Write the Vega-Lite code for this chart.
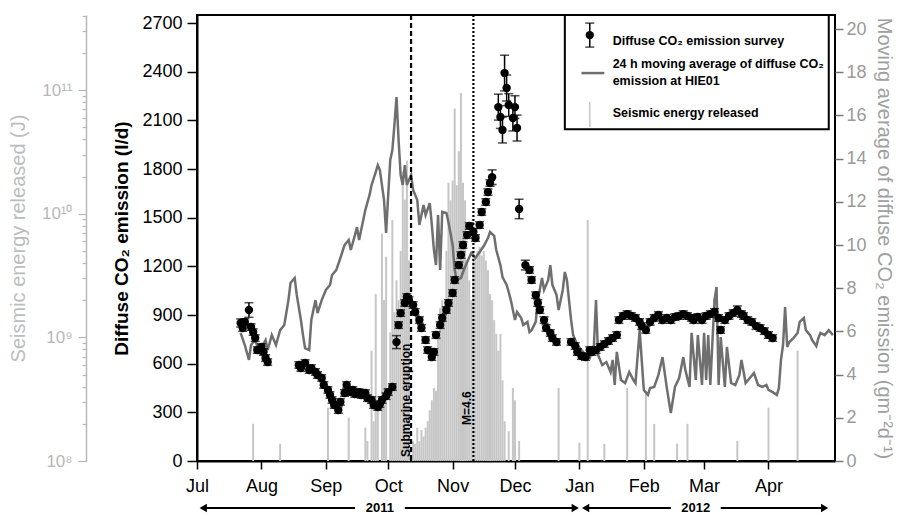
{
  "$schema": "https://vega.github.io/schema/vega-lite/v6.json",
  "width": 638,
  "height": 446,
  "autosize": {"type": "none"},
  "padding": {"left": 197, "top": 15, "right": 68, "bottom": 58},
  "background": "white",
  "config": {
    "view": {"stroke": "black", "strokeWidth": 2},
    "font": "Liberation Sans",
    "axis": {"labelFont": "Liberation Sans", "titleFont": "Liberation Sans", "grid": false},
    "text": {"font": "Liberation Sans"}
  },
  "datasets": {
    "seismic": [
      {"date": "2011-07-28", "energy": 2.0e8}, {"date": "2011-08-10", "energy": 1.38e8},
      {"date": "2011-09-02", "energy": 2.7e8}, {"date": "2011-09-12", "energy": 2.24e8},
      {"date": "2011-09-20", "energy": 1.86e8}, {"date": "2011-09-21", "energy": 1.45e8},
      {"date": "2011-09-23", "energy": 7.8e8}, {"date": "2011-09-24", "energy": 2.1e8},
      {"date": "2011-09-25", "energy": 2.24e9}, {"date": "2011-09-26", "energy": 3.1e8},
      {"date": "2011-09-28", "energy": 6.9e9}, {"date": "2011-09-29", "energy": 2.0e9},
      {"date": "2011-09-30", "energy": 4.5e9}, {"date": "2011-10-02", "energy": 1.1e9},
      {"date": "2011-10-03", "energy": 8.9e9}, {"date": "2011-10-04", "energy": 1.6e9},
      {"date": "2011-10-05", "energy": 2.9e9}, {"date": "2011-10-06", "energy": 2.0e9},
      {"date": "2011-10-07", "energy": 5.0e9}, {"date": "2011-10-08", "energy": 2.2e10},
      {"date": "2011-10-09", "energy": 1.3e10}, {"date": "2011-10-10", "energy": 2.7e10},
      {"date": "2011-10-11", "energy": 4.2e9}, {"date": "2011-10-13", "energy": 1.45e8},
      {"date": "2011-10-14", "energy": 1.38e8}, {"date": "2011-10-15", "energy": 1.86e8},
      {"date": "2011-10-16", "energy": 1.45e8}, {"date": "2011-10-17", "energy": 1.78e8},
      {"date": "2011-10-18", "energy": 1.58e8}, {"date": "2011-10-19", "energy": 1.86e8},
      {"date": "2011-10-20", "energy": 2.1e8}, {"date": "2011-10-21", "energy": 2.57e8},
      {"date": "2011-10-22", "energy": 3.1e8}, {"date": "2011-10-23", "energy": 3.9e8},
      {"date": "2011-10-24", "energy": 3.7e8}, {"date": "2011-10-25", "energy": 1.12e9},
      {"date": "2011-10-26", "energy": 1.74e9}, {"date": "2011-10-27", "energy": 2.0e9},
      {"date": "2011-10-28", "energy": 1.66e9}, {"date": "2011-10-29", "energy": 5.0e9},
      {"date": "2011-10-30", "energy": 1.78e10}, {"date": "2011-10-31", "energy": 1.29e10},
      {"date": "2011-11-01", "energy": 1.86e10}, {"date": "2011-11-02", "energy": 7.1e10},
      {"date": "2011-11-03", "energy": 1.7e10}, {"date": "2011-11-04", "energy": 3.2e10},
      {"date": "2011-11-05", "energy": 9.5e10}, {"date": "2011-11-06", "energy": 1.78e10},
      {"date": "2011-11-07", "energy": 1.29e10}, {"date": "2011-11-08", "energy": 4.2e9},
      {"date": "2011-11-09", "energy": 2.9e9}, {"date": "2011-11-10", "energy": 2.0e9},
      {"date": "2011-11-11", "energy": 5.0e9}, {"date": "2011-11-12", "energy": 4.2e9},
      {"date": "2011-11-13", "energy": 5.0e9}, {"date": "2011-11-14", "energy": 5.4e9},
      {"date": "2011-11-15", "energy": 4.6e9}, {"date": "2011-11-16", "energy": 5.0e9},
      {"date": "2011-11-17", "energy": 4.2e9}, {"date": "2011-11-18", "energy": 3.5e9},
      {"date": "2011-11-19", "energy": 2.24e9}, {"date": "2011-11-20", "energy": 2.0e9},
      {"date": "2011-11-21", "energy": 1.38e9}, {"date": "2011-11-22", "energy": 1.07e9},
      {"date": "2011-11-23", "energy": 7.8e8}, {"date": "2011-11-24", "energy": 1.07e9},
      {"date": "2011-11-25", "energy": 4.5e8}, {"date": "2011-11-26", "energy": 2.1e8},
      {"date": "2011-11-28", "energy": 1.74e8}, {"date": "2011-11-30", "energy": 3.9e8},
      {"date": "2011-12-01", "energy": 3.1e8}, {"date": "2011-12-03", "energy": 1.45e8},
      {"date": "2011-12-22", "energy": 3.9e8}, {"date": "2012-01-01", "energy": 1.41e8},
      {"date": "2012-01-05", "energy": 8.9e9}, {"date": "2012-01-13", "energy": 1.38e8},
      {"date": "2012-01-24", "energy": 3.9e8}, {"date": "2012-02-02", "energy": 3.7e8},
      {"date": "2012-02-06", "energy": 2.0e8}, {"date": "2012-02-17", "energy": 1.38e8},
      {"date": "2012-02-22", "energy": 2.0e8}, {"date": "2012-03-17", "energy": 1.45e8},
      {"date": "2012-04-01", "energy": 2.7e8}, {"date": "2012-04-15", "energy": 7.8e8}
    ],
    "ma": [
      {"date": "2011-07-22", "ma": 5.93}, {"date": "2011-07-24", "ma": 5.37}, {"date": "2011-07-26", "ma": 4.68},
      {"date": "2011-07-27", "ma": 5.37}, {"date": "2011-07-29", "ma": 5.6}, {"date": "2011-07-31", "ma": 5.05},
      {"date": "2011-08-03", "ma": 5.6}, {"date": "2011-08-04", "ma": 5.14}, {"date": "2011-08-06", "ma": 5.83},
      {"date": "2011-08-08", "ma": 5.37}, {"date": "2011-08-10", "ma": 6.06}, {"date": "2011-08-12", "ma": 6.3},
      {"date": "2011-08-14", "ma": 7.45}, {"date": "2011-08-15", "ma": 8.24}, {"date": "2011-08-17", "ma": 8.47},
      {"date": "2011-08-18", "ma": 7.69}, {"date": "2011-08-20", "ma": 6.53}, {"date": "2011-08-21", "ma": 5.83},
      {"date": "2011-08-22", "ma": 5.23}, {"date": "2011-08-24", "ma": 5.14}, {"date": "2011-08-25", "ma": 6.53},
      {"date": "2011-08-27", "ma": 7.45}, {"date": "2011-08-28", "ma": 6.85}, {"date": "2011-08-30", "ma": 7.45},
      {"date": "2011-09-01", "ma": 7.92}, {"date": "2011-09-03", "ma": 8.15}, {"date": "2011-09-04", "ma": 8.61},
      {"date": "2011-09-06", "ma": 8.84}, {"date": "2011-09-08", "ma": 9.4}, {"date": "2011-09-10", "ma": 10.0},
      {"date": "2011-09-12", "ma": 10.23}, {"date": "2011-09-13", "ma": 9.77}, {"date": "2011-09-15", "ma": 10.46},
      {"date": "2011-09-16", "ma": 10.83}, {"date": "2011-09-17", "ma": 10.23}, {"date": "2011-09-19", "ma": 11.16},
      {"date": "2011-09-20", "ma": 11.62}, {"date": "2011-09-22", "ma": 12.31}, {"date": "2011-09-23", "ma": 12.78},
      {"date": "2011-09-25", "ma": 13.38}, {"date": "2011-09-26", "ma": 13.7}, {"date": "2011-09-27", "ma": 13.47},
      {"date": "2011-09-29", "ma": 12.08}, {"date": "2011-09-30", "ma": 10.56}, {"date": "2011-10-01", "ma": 12.31},
      {"date": "2011-10-02", "ma": 13.94}, {"date": "2011-10-03", "ma": 14.4}, {"date": "2011-10-04", "ma": 15.56},
      {"date": "2011-10-05", "ma": 16.85}, {"date": "2011-10-06", "ma": 14.86}, {"date": "2011-10-07", "ma": 13.24},
      {"date": "2011-10-08", "ma": 12.78}, {"date": "2011-10-09", "ma": 13.7}, {"date": "2011-10-10", "ma": 12.78},
      {"date": "2011-10-12", "ma": 13.24}, {"date": "2011-10-13", "ma": 12.55}, {"date": "2011-10-15", "ma": 12.08},
      {"date": "2011-10-16", "ma": 10.93}, {"date": "2011-10-18", "ma": 11.85}, {"date": "2011-10-19", "ma": 11.39},
      {"date": "2011-10-21", "ma": 11.94}, {"date": "2011-10-22", "ma": 10.93}, {"date": "2011-10-23", "ma": 9.77},
      {"date": "2011-10-24", "ma": 9.07}, {"date": "2011-10-25", "ma": 11.39}, {"date": "2011-10-26", "ma": 8.84},
      {"date": "2011-10-27", "ma": 11.53}, {"date": "2011-10-29", "ma": 11.48}, {"date": "2011-10-30", "ma": 11.06},
      {"date": "2011-11-01", "ma": 10.0}, {"date": "2011-11-02", "ma": 8.84}, {"date": "2011-11-03", "ma": 8.38},
      {"date": "2011-11-05", "ma": 8.47}, {"date": "2011-11-06", "ma": 8.75}, {"date": "2011-11-08", "ma": 9.21},
      {"date": "2011-11-10", "ma": 9.63}, {"date": "2011-11-12", "ma": 9.4}, {"date": "2011-11-14", "ma": 9.68},
      {"date": "2011-11-16", "ma": 9.95}, {"date": "2011-11-18", "ma": 10.32}, {"date": "2011-11-19", "ma": 10.6},
      {"date": "2011-11-21", "ma": 10.42}, {"date": "2011-11-22", "ma": 9.77}, {"date": "2011-11-24", "ma": 9.07},
      {"date": "2011-11-25", "ma": 8.52}, {"date": "2011-11-27", "ma": 8.15}, {"date": "2011-11-28", "ma": 7.82},
      {"date": "2011-11-29", "ma": 7.45}, {"date": "2011-12-01", "ma": 6.53}, {"date": "2011-12-02", "ma": 6.9},
      {"date": "2011-12-04", "ma": 6.62}, {"date": "2011-12-05", "ma": 6.3}, {"date": "2011-12-07", "ma": 6.44},
      {"date": "2011-12-08", "ma": 5.97}, {"date": "2011-12-09", "ma": 6.06}, {"date": "2011-12-11", "ma": 6.44},
      {"date": "2011-12-12", "ma": 7.45}, {"date": "2011-12-14", "ma": 8.47}, {"date": "2011-12-15", "ma": 7.92},
      {"date": "2011-12-17", "ma": 8.38}, {"date": "2011-12-18", "ma": 9.07}, {"date": "2011-12-19", "ma": 8.15},
      {"date": "2011-12-21", "ma": 7.69}, {"date": "2011-12-22", "ma": 6.99}, {"date": "2011-12-24", "ma": 7.92},
      {"date": "2011-12-25", "ma": 8.75}, {"date": "2011-12-26", "ma": 8.38}, {"date": "2011-12-28", "ma": 6.53},
      {"date": "2011-12-29", "ma": 5.83}, {"date": "2011-12-31", "ma": 5.37}, {"date": "2012-01-02", "ma": 5.14},
      {"date": "2012-01-04", "ma": 4.91}, {"date": "2012-01-06", "ma": 4.77}, {"date": "2012-01-08", "ma": 5.37},
      {"date": "2012-01-09", "ma": 7.45}, {"date": "2012-01-10", "ma": 4.91}, {"date": "2012-01-12", "ma": 4.44},
      {"date": "2012-01-14", "ma": 4.58}, {"date": "2012-01-16", "ma": 4.12}, {"date": "2012-01-17", "ma": 4.68},
      {"date": "2012-01-18", "ma": 3.52}, {"date": "2012-01-19", "ma": 5.05}, {"date": "2012-01-21", "ma": 3.75},
      {"date": "2012-01-23", "ma": 3.61}, {"date": "2012-01-25", "ma": 4.12}, {"date": "2012-01-27", "ma": 3.75},
      {"date": "2012-01-28", "ma": 3.61}, {"date": "2012-01-30", "ma": 6.06}, {"date": "2012-02-01", "ma": 3.29},
      {"date": "2012-02-03", "ma": 3.06}, {"date": "2012-02-04", "ma": 3.38}, {"date": "2012-02-06", "ma": 3.43},
      {"date": "2012-02-08", "ma": 3.98}, {"date": "2012-02-10", "ma": 4.81}, {"date": "2012-02-12", "ma": 3.43},
      {"date": "2012-02-13", "ma": 2.82}, {"date": "2012-02-14", "ma": 2.22}, {"date": "2012-02-16", "ma": 3.43},
      {"date": "2012-02-18", "ma": 3.84}, {"date": "2012-02-20", "ma": 4.81}, {"date": "2012-02-21", "ma": 4.21},
      {"date": "2012-02-23", "ma": 3.43}, {"date": "2012-02-24", "ma": 5.93}, {"date": "2012-02-26", "ma": 3.75},
      {"date": "2012-02-27", "ma": 5.83}, {"date": "2012-02-29", "ma": 3.52}, {"date": "2012-03-01", "ma": 5.93},
      {"date": "2012-03-02", "ma": 3.75}, {"date": "2012-03-03", "ma": 5.83}, {"date": "2012-03-04", "ma": 3.52},
      {"date": "2012-03-06", "ma": 7.45}, {"date": "2012-03-07", "ma": 8.06}, {"date": "2012-03-08", "ma": 3.52},
      {"date": "2012-03-09", "ma": 5.74}, {"date": "2012-03-11", "ma": 3.43}, {"date": "2012-03-12", "ma": 5.28},
      {"date": "2012-03-14", "ma": 3.61}, {"date": "2012-03-16", "ma": 3.52}, {"date": "2012-03-18", "ma": 3.98},
      {"date": "2012-03-19", "ma": 4.68}, {"date": "2012-03-21", "ma": 3.61}, {"date": "2012-03-23", "ma": 3.84},
      {"date": "2012-03-25", "ma": 4.07}, {"date": "2012-03-27", "ma": 3.52}, {"date": "2012-03-29", "ma": 3.43},
      {"date": "2012-03-31", "ma": 3.52}, {"date": "2012-04-01", "ma": 3.29}, {"date": "2012-04-03", "ma": 3.19},
      {"date": "2012-04-05", "ma": 3.06}, {"date": "2012-04-06", "ma": 3.38}, {"date": "2012-04-07", "ma": 4.68},
      {"date": "2012-04-08", "ma": 5.37}, {"date": "2012-04-09", "ma": 7.13}, {"date": "2012-04-10", "ma": 5.28},
      {"date": "2012-04-11", "ma": 5.51}, {"date": "2012-04-13", "ma": 5.69}, {"date": "2012-04-15", "ma": 5.93},
      {"date": "2012-04-16", "ma": 6.44}, {"date": "2012-04-18", "ma": 6.62}, {"date": "2012-04-19", "ma": 6.06},
      {"date": "2012-04-21", "ma": 5.83}, {"date": "2012-04-22", "ma": 5.6}, {"date": "2012-04-24", "ma": 5.32},
      {"date": "2012-04-25", "ma": 5.69}, {"date": "2012-04-26", "ma": 5.93}, {"date": "2012-04-28", "ma": 5.83},
      {"date": "2012-04-30", "ma": 6.06}, {"date": "2012-05-02", "ma": 5.83}
    ],
    "survey": [
      {"date": "2011-07-22", "co2": 851, "lo": 826, "hi": 876},
      {"date": "2011-07-23", "co2": 820, "lo": 800, "hi": 840},
      {"date": "2011-07-24", "co2": 857, "lo": 837, "hi": 877},
      {"date": "2011-07-26", "co2": 931, "lo": 886, "hi": 976},
      {"date": "2011-07-27", "co2": 826, "lo": 806, "hi": 846},
      {"date": "2011-07-28", "co2": 795, "lo": 775, "hi": 815},
      {"date": "2011-07-29", "co2": 758, "lo": 738, "hi": 778},
      {"date": "2011-07-30", "co2": 684, "lo": 664, "hi": 704},
      {"date": "2011-08-01", "co2": 703, "lo": 683, "hi": 723},
      {"date": "2011-08-02", "co2": 672, "lo": 652, "hi": 692},
      {"date": "2011-08-03", "co2": 635, "lo": 615, "hi": 655},
      {"date": "2011-08-04", "co2": 610, "lo": 590, "hi": 630},
      {"date": "2011-08-19", "co2": 592, "lo": 572, "hi": 612},
      {"date": "2011-08-20", "co2": 573, "lo": 553, "hi": 593},
      {"date": "2011-08-22", "co2": 604, "lo": 584, "hi": 624},
      {"date": "2011-08-24", "co2": 561, "lo": 541, "hi": 581},
      {"date": "2011-08-25", "co2": 573, "lo": 553, "hi": 593},
      {"date": "2011-08-27", "co2": 549, "lo": 529, "hi": 569},
      {"date": "2011-08-28", "co2": 530, "lo": 510, "hi": 550},
      {"date": "2011-08-30", "co2": 512, "lo": 492, "hi": 532},
      {"date": "2011-08-31", "co2": 469, "lo": 449, "hi": 489},
      {"date": "2011-09-02", "co2": 438, "lo": 418, "hi": 458},
      {"date": "2011-09-03", "co2": 407, "lo": 387, "hi": 427},
      {"date": "2011-09-04", "co2": 376, "lo": 356, "hi": 396},
      {"date": "2011-09-05", "co2": 345, "lo": 325, "hi": 365},
      {"date": "2011-09-07", "co2": 314, "lo": 294, "hi": 334},
      {"date": "2011-09-08", "co2": 364, "lo": 344, "hi": 384},
      {"date": "2011-09-10", "co2": 419, "lo": 399, "hi": 439},
      {"date": "2011-09-11", "co2": 469, "lo": 449, "hi": 489},
      {"date": "2011-09-13", "co2": 425, "lo": 405, "hi": 445},
      {"date": "2011-09-14", "co2": 438, "lo": 418, "hi": 458},
      {"date": "2011-09-15", "co2": 413, "lo": 393, "hi": 433},
      {"date": "2011-09-17", "co2": 425, "lo": 405, "hi": 445},
      {"date": "2011-09-18", "co2": 407, "lo": 387, "hi": 427},
      {"date": "2011-09-20", "co2": 419, "lo": 399, "hi": 439},
      {"date": "2011-09-21", "co2": 388, "lo": 368, "hi": 408},
      {"date": "2011-09-23", "co2": 376, "lo": 356, "hi": 396},
      {"date": "2011-09-24", "co2": 345, "lo": 325, "hi": 365},
      {"date": "2011-09-26", "co2": 333, "lo": 313, "hi": 353},
      {"date": "2011-09-27", "co2": 351, "lo": 331, "hi": 371},
      {"date": "2011-09-28", "co2": 376, "lo": 356, "hi": 396},
      {"date": "2011-09-30", "co2": 400, "lo": 380, "hi": 420},
      {"date": "2011-10-01", "co2": 425, "lo": 405, "hi": 445},
      {"date": "2011-10-03", "co2": 456, "lo": 436, "hi": 476},
      {"date": "2011-10-05", "co2": 733, "lo": 693, "hi": 773},
      {"date": "2011-10-06", "co2": 838, "lo": 818, "hi": 858},
      {"date": "2011-10-07", "co2": 912, "lo": 892, "hi": 932},
      {"date": "2011-10-09", "co2": 974, "lo": 954, "hi": 994},
      {"date": "2011-10-10", "co2": 1011, "lo": 991, "hi": 1031},
      {"date": "2011-10-11", "co2": 992, "lo": 972, "hi": 1012},
      {"date": "2011-10-13", "co2": 962, "lo": 942, "hi": 982},
      {"date": "2011-10-14", "co2": 919, "lo": 899, "hi": 939},
      {"date": "2011-10-16", "co2": 869, "lo": 849, "hi": 889},
      {"date": "2011-10-17", "co2": 820, "lo": 800, "hi": 840},
      {"date": "2011-10-19", "co2": 746, "lo": 726, "hi": 766},
      {"date": "2011-10-20", "co2": 684, "lo": 664, "hi": 704},
      {"date": "2011-10-22", "co2": 641, "lo": 621, "hi": 661},
      {"date": "2011-10-23", "co2": 672, "lo": 652, "hi": 692},
      {"date": "2011-10-24", "co2": 777, "lo": 757, "hi": 797},
      {"date": "2011-10-26", "co2": 838, "lo": 818, "hi": 858},
      {"date": "2011-10-27", "co2": 882, "lo": 862, "hi": 902},
      {"date": "2011-10-29", "co2": 931, "lo": 911, "hi": 951},
      {"date": "2011-10-30", "co2": 974, "lo": 954, "hi": 994},
      {"date": "2011-11-01", "co2": 1036, "lo": 1016, "hi": 1056},
      {"date": "2011-11-02", "co2": 1116, "lo": 1096, "hi": 1136},
      {"date": "2011-11-04", "co2": 1208, "lo": 1188, "hi": 1228},
      {"date": "2011-11-05", "co2": 1270, "lo": 1250, "hi": 1290},
      {"date": "2011-11-06", "co2": 1332, "lo": 1312, "hi": 1352},
      {"date": "2011-11-08", "co2": 1393, "lo": 1373, "hi": 1413},
      {"date": "2011-11-09", "co2": 1449, "lo": 1429, "hi": 1469},
      {"date": "2011-11-11", "co2": 1412, "lo": 1392, "hi": 1432},
      {"date": "2011-11-12", "co2": 1375, "lo": 1355, "hi": 1395},
      {"date": "2011-11-14", "co2": 1455, "lo": 1435, "hi": 1475},
      {"date": "2011-11-15", "co2": 1535, "lo": 1515, "hi": 1555},
      {"date": "2011-11-17", "co2": 1597, "lo": 1577, "hi": 1617},
      {"date": "2011-11-18", "co2": 1658, "lo": 1638, "hi": 1678},
      {"date": "2011-11-19", "co2": 1714, "lo": 1694, "hi": 1734},
      {"date": "2011-11-20", "co2": 1750, "lo": 1705, "hi": 1795},
      {"date": "2011-11-23", "co2": 2182, "lo": 2102, "hi": 2262},
      {"date": "2011-11-24", "co2": 2121, "lo": 2051, "hi": 2191},
      {"date": "2011-11-25", "co2": 2041, "lo": 1961, "hi": 2121},
      {"date": "2011-11-26", "co2": 2392, "lo": 2282, "hi": 2502},
      {"date": "2011-11-27", "co2": 2300, "lo": 2220, "hi": 2380},
      {"date": "2011-11-28", "co2": 2195, "lo": 2125, "hi": 2265},
      {"date": "2011-11-30", "co2": 2115, "lo": 2035, "hi": 2195},
      {"date": "2011-12-01", "co2": 2182, "lo": 2112, "hi": 2252},
      {"date": "2011-12-02", "co2": 2053, "lo": 1973, "hi": 2133},
      {"date": "2011-12-03", "co2": 1554, "lo": 1494, "hi": 1614},
      {"date": "2011-12-06", "co2": 1208, "lo": 1178, "hi": 1238},
      {"date": "2011-12-08", "co2": 1178, "lo": 1158, "hi": 1198},
      {"date": "2011-12-09", "co2": 1116, "lo": 1096, "hi": 1136},
      {"date": "2011-12-11", "co2": 1023, "lo": 1003, "hi": 1043},
      {"date": "2011-12-12", "co2": 974, "lo": 954, "hi": 994},
      {"date": "2011-12-13", "co2": 931, "lo": 911, "hi": 951},
      {"date": "2011-12-15", "co2": 869, "lo": 849, "hi": 889},
      {"date": "2011-12-16", "co2": 820, "lo": 800, "hi": 840},
      {"date": "2011-12-18", "co2": 789, "lo": 769, "hi": 809},
      {"date": "2011-12-19", "co2": 758, "lo": 738, "hi": 778},
      {"date": "2011-12-21", "co2": 734, "lo": 714, "hi": 754},
      {"date": "2011-12-28", "co2": 734, "lo": 714, "hi": 754},
      {"date": "2011-12-30", "co2": 709, "lo": 689, "hi": 729},
      {"date": "2011-12-31", "co2": 672, "lo": 652, "hi": 692},
      {"date": "2012-01-02", "co2": 647, "lo": 627, "hi": 667},
      {"date": "2012-01-04", "co2": 641, "lo": 621, "hi": 661},
      {"date": "2012-01-06", "co2": 684, "lo": 664, "hi": 704},
      {"date": "2012-01-07", "co2": 672, "lo": 652, "hi": 692},
      {"date": "2012-01-09", "co2": 684, "lo": 664, "hi": 704},
      {"date": "2012-01-11", "co2": 703, "lo": 683, "hi": 723},
      {"date": "2012-01-13", "co2": 721, "lo": 701, "hi": 741},
      {"date": "2012-01-15", "co2": 740, "lo": 720, "hi": 760},
      {"date": "2012-01-17", "co2": 758, "lo": 738, "hi": 778},
      {"date": "2012-01-19", "co2": 777, "lo": 757, "hi": 797},
      {"date": "2012-01-20", "co2": 869, "lo": 849, "hi": 889},
      {"date": "2012-01-22", "co2": 894, "lo": 874, "hi": 914},
      {"date": "2012-01-24", "co2": 906, "lo": 886, "hi": 926},
      {"date": "2012-01-26", "co2": 894, "lo": 874, "hi": 914},
      {"date": "2012-01-28", "co2": 882, "lo": 862, "hi": 902},
      {"date": "2012-01-30", "co2": 857, "lo": 837, "hi": 877},
      {"date": "2012-01-31", "co2": 832, "lo": 812, "hi": 852},
      {"date": "2012-02-02", "co2": 808, "lo": 788, "hi": 828},
      {"date": "2012-02-04", "co2": 857, "lo": 837, "hi": 877},
      {"date": "2012-02-06", "co2": 882, "lo": 862, "hi": 902},
      {"date": "2012-02-08", "co2": 900, "lo": 880, "hi": 920},
      {"date": "2012-02-10", "co2": 869, "lo": 849, "hi": 889},
      {"date": "2012-02-12", "co2": 882, "lo": 862, "hi": 902},
      {"date": "2012-02-14", "co2": 869, "lo": 849, "hi": 889},
      {"date": "2012-02-16", "co2": 888, "lo": 868, "hi": 908},
      {"date": "2012-02-18", "co2": 894, "lo": 874, "hi": 914},
      {"date": "2012-02-20", "co2": 906, "lo": 886, "hi": 926},
      {"date": "2012-02-22", "co2": 894, "lo": 874, "hi": 914},
      {"date": "2012-02-24", "co2": 882, "lo": 862, "hi": 902},
      {"date": "2012-02-25", "co2": 869, "lo": 849, "hi": 889},
      {"date": "2012-02-27", "co2": 888, "lo": 868, "hi": 908},
      {"date": "2012-02-29", "co2": 869, "lo": 849, "hi": 889},
      {"date": "2012-03-02", "co2": 894, "lo": 874, "hi": 914},
      {"date": "2012-03-04", "co2": 906, "lo": 886, "hi": 926},
      {"date": "2012-03-06", "co2": 919, "lo": 899, "hi": 939},
      {"date": "2012-03-08", "co2": 882, "lo": 862, "hi": 902},
      {"date": "2012-03-09", "co2": 808, "lo": 788, "hi": 828},
      {"date": "2012-03-11", "co2": 869, "lo": 849, "hi": 889},
      {"date": "2012-03-13", "co2": 894, "lo": 874, "hi": 914},
      {"date": "2012-03-15", "co2": 912, "lo": 892, "hi": 932},
      {"date": "2012-03-17", "co2": 931, "lo": 906, "hi": 956},
      {"date": "2012-03-19", "co2": 906, "lo": 886, "hi": 926},
      {"date": "2012-03-20", "co2": 894, "lo": 874, "hi": 914},
      {"date": "2012-03-22", "co2": 869, "lo": 849, "hi": 889},
      {"date": "2012-03-24", "co2": 857, "lo": 837, "hi": 877},
      {"date": "2012-03-26", "co2": 832, "lo": 812, "hi": 852},
      {"date": "2012-03-28", "co2": 820, "lo": 800, "hi": 840},
      {"date": "2012-03-30", "co2": 801, "lo": 781, "hi": 821},
      {"date": "2012-04-01", "co2": 777, "lo": 757, "hi": 797},
      {"date": "2012-04-03", "co2": 758, "lo": 738, "hi": 778}
    ],
    "events": [
      {"date": "2011-10-12", "kind": "Submarine eruption"},
      {"date": "2011-11-11", "kind": "M=4.6"}
    ],
    "legendBox": [{"x1": "2011-12-25", "x2": "2012-04-30", "v1": 2045, "v2": 2750}],
    "legendText": [
      {"date": "2012-01-17", "v": 2589, "label": "Diffuse CO₂ emission survey"},
      {"date": "2012-01-17", "v": 2447, "label": "24 h moving average of diffuse CO₂"},
      {"date": "2012-01-17", "v": 2343, "label": "emission at HIE01"},
      {"date": "2012-01-17", "v": 2145, "label": "Seismic energy released"}
    ],
    "legendSurvey": [{"date": "2012-01-06", "co2": 2626, "lo": 2552, "hi": 2700}],
    "legendLine": [{"x1": "2012-01-02", "x2": "2012-01-13", "v": 2392}],
    "legendBar": [{"date": "2012-01-06", "v1": 2059, "v2": 2213}],
    "yearLines": [
      {"x1": "2011-07-04", "x2": "2011-09-15"},
      {"x1": "2011-10-09", "x2": "2011-12-30"},
      {"x1": "2012-01-04", "x2": "2012-02-14"},
      {"x1": "2012-03-09", "x2": "2012-04-28"}
    ],
    "yearHeads": [
      {"date": "2011-07-04", "dir": "left"},
      {"date": "2011-12-30", "dir": "right"},
      {"date": "2012-01-04", "dir": "left"},
      {"date": "2012-04-28", "dir": "right"}
    ],
    "yearLabels": [
      {"date": "2011-09-27", "year": "2011"},
      {"date": "2012-02-26", "year": "2012"}
    ]
  },
  "layer": [
    {
      "data": {"name": "seismic"},
      "mark": {"type": "rule", "color": "#c6c6c6", "strokeWidth": 2},
      "encoding": {
        "x": {
          "field": "date", "type": "temporal", "title": null,
          "scale": {"type": "utc", "domain": [{"year": 2011, "month": 7, "date": 1, "utc": true}, {"year": 2012, "month": 5, "date": 3, "utc": true}]},
          "axis": {
            "orient": "bottom", "format": "%b", "title": null,
            "values": [
              {"year": 2011, "month": 7, "date": 1, "utc": true}, {"year": 2011, "month": 8, "date": 1, "utc": true},
              {"year": 2011, "month": 9, "date": 1, "utc": true}, {"year": 2011, "month": 10, "date": 1, "utc": true},
              {"year": 2011, "month": 11, "date": 1, "utc": true}, {"year": 2011, "month": 12, "date": 1, "utc": true},
              {"year": 2012, "month": 1, "date": 1, "utc": true}, {"year": 2012, "month": 2, "date": 1, "utc": true},
              {"year": 2012, "month": 3, "date": 1, "utc": true}, {"year": 2012, "month": 4, "date": 1, "utc": true}
            ],
            "domainColor": "black", "domainWidth": 2, "tickColor": "black", "tickWidth": 1.5, "tickSize": 8,
            "labelFontSize": 18, "labelColor": "black", "labelPadding": 8, "labelFlush": false, "labelOverlap": false, "grid": false
          }
        },
        "y": {
          "field": "energy", "type": "quantitative",
          "scale": {"type": "log", "domain": [1e8, 4.06e11], "nice": false},
          "axis": {
            "orient": "left", "offset": 111,
            "values": [1e8, 2e8, 3e8, 4e8, 5e8, 6e8, 7e8, 8e8, 9e8, 1e9, 2e9, 3e9, 4e9, 5e9, 6e9, 7e9, 8e9, 9e9, 1e10, 2e10, 3e10, 4e10, 5e10, 6e10, 7e10, 8e10, 9e10, 1e11, 2e11, 3e11, 4e11],
            "labelExpr": "datum.value == 1e8 ? '10⁸' : datum.value == 1e9 ? '10⁹' : datum.value == 1e10 ? '10¹⁰' : datum.value == 1e11 ? '10¹¹' : ''",
            "tickSize": {"condition": {"test": "indexof([1e8, 1e9, 1e10, 1e11], datum.value) >= 0", "value": 8}, "value": 4},
            "domainColor": "#b8b8b8", "domainWidth": 1.5, "tickColor": "#b8b8b8", "tickWidth": 1.2,
            "labelColor": "#b8b8b8", "labelFontSize": 17, "labelPadding": 6, "labelOverlap": false,
            "title": "Seismic energy released (J)", "titleColor": "#bdbdbd", "titleFontSize": 20, "titleFontWeight": "normal", "titlePadding": 13, "grid": false
          }
        },
        "y2": {"datum": 100000000}
      }
    },
    {
      "data": {"name": "ma"},
      "mark": {"type": "line", "color": "#6f6f6f", "strokeWidth": 2.5},
      "encoding": {
        "x": {"field": "date", "type": "temporal", "title": null},
        "y": {
          "field": "ma", "type": "quantitative",
          "scale": {"domain": [0, 20.65], "nice": false},
          "axis": {
            "orient": "right", "values": [0, 2, 4, 6, 8, 10, 12, 14, 16, 18, 20],
            "title": "Moving average of diffuse CO₂ emission (gm⁻²d⁻¹)",
            "domain": false, "tickColor": "#7a7a7a", "tickSize": 8, "tickWidth": 1.5,
            "labelColor": "#9a9a9a", "labelFontSize": 18, "labelPadding": 3,
            "titleColor": "#a0a0a0", "titleFontSize": 20, "titleFontWeight": "normal", "titlePadding": 7, "grid": false
          }
        }
      }
    },
    {
      "layer": [
        {
          "data": {"name": "legendBox"},
          "mark": {"type": "rect", "fill": "white", "stroke": "black", "strokeWidth": 2},
          "encoding": {
            "x": {"field": "x1", "type": "temporal", "title": null},
            "x2": {"field": "x2"},
            "y": {
              "field": "v1", "type": "quantitative", "title": "Diffuse CO₂ emission (l/d)",
              "scale": {"domain": [0, 2750], "nice": false},
              "axis": {
                "orient": "left", "values": [0, 300, 600, 900, 1200, 1500, 1800, 2100, 2400, 2700], "format": "d",
                "title": "Diffuse CO₂ emission (l/d)", "titleFontSize": 19, "titleFontWeight": "bold", "titleColor": "black", "titlePadding": 10,
                "labelFontSize": 18, "labelColor": "black", "labelPadding": 5,
                "tickSize": 10, "tickWidth": 1.5, "tickColor": "black", "domainColor": "black", "domainWidth": 2, "grid": false
              }
            },
            "y2": {"field": "v2"}
          }
        },
        {
          "data": {"name": "events"},
          "mark": {"type": "rule", "color": "black", "strokeWidth": 2.2},
          "encoding": {
            "x": {"field": "date", "type": "temporal", "title": null},
            "strokeDash": {"field": "kind", "type": "nominal", "scale": {"domain": ["Submarine eruption", "M=4.6"], "range": [[5, 3], [2, 2]]}, "legend": null}
          }
        },
        {
          "data": {"name": "survey"},
          "mark": {"type": "errorbar", "color": "black", "ticks": {"size": 9, "thickness": 1.5}, "rule": {"strokeWidth": 1.5}},
          "encoding": {
            "x": {"field": "date", "type": "temporal", "title": null},
            "y": {"field": "lo", "type": "quantitative", "title": "Diffuse CO₂ emission (l/d)"},
            "y2": {"field": "hi"}
          }
        },
        {
          "data": {"name": "survey"},
          "mark": {"type": "point", "filled": true, "shape": "circle", "size": 70, "color": "black", "opacity": 1},
          "encoding": {
            "x": {"field": "date", "type": "temporal", "title": null},
            "y": {"field": "co2", "type": "quantitative", "title": "Diffuse CO₂ emission (l/d)"}
          }
        },
        {
          "data": {"name": "events"},
          "transform": [{"filter": "datum.kind == 'Submarine eruption'"}],
          "mark": {"type": "text", "angle": 270, "align": "left", "baseline": "bottom", "fontSize": 12, "fontWeight": "bold", "color": "black", "dy": 2},
          "encoding": {
            "x": {"field": "date", "type": "temporal", "title": null},
            "y": {"datum": 25, "type": "quantitative"},
            "text": {"field": "kind"}
          }
        },
        {
          "data": {"name": "events"},
          "transform": [{"filter": "datum.kind == 'M=4.6'"}],
          "mark": {"type": "text", "angle": 270, "align": "left", "baseline": "bottom", "fontSize": 12, "fontWeight": "bold", "color": "black", "dy": 1},
          "encoding": {
            "x": {"field": "date", "type": "temporal", "title": null},
            "y": {"datum": 222, "type": "quantitative"},
            "text": {"field": "kind"}
          }
        },
        {
          "data": {"name": "legendSurvey"},
          "mark": {"type": "errorbar", "color": "black", "ticks": {"size": 9, "thickness": 1.5}, "rule": {"strokeWidth": 1.5}},
          "encoding": {
            "x": {"field": "date", "type": "temporal", "title": null},
            "y": {"field": "lo", "type": "quantitative", "title": "Diffuse CO₂ emission (l/d)"},
            "y2": {"field": "hi"}
          }
        },
        {
          "data": {"name": "legendSurvey"},
          "mark": {"type": "point", "filled": true, "shape": "circle", "size": 70, "color": "black", "opacity": 1},
          "encoding": {
            "x": {"field": "date", "type": "temporal", "title": null},
            "y": {"field": "co2", "type": "quantitative", "title": "Diffuse CO₂ emission (l/d)"}
          }
        },
        {
          "data": {"name": "legendLine"},
          "mark": {"type": "rule", "color": "#6f6f6f", "strokeWidth": 2.5},
          "encoding": {
            "x": {"field": "x1", "type": "temporal", "title": null},
            "x2": {"field": "x2"},
            "y": {"field": "v", "type": "quantitative", "title": "Diffuse CO₂ emission (l/d)"}
          }
        },
        {
          "data": {"name": "legendBar"},
          "mark": {"type": "rule", "color": "#c6c6c6", "strokeWidth": 1.5},
          "encoding": {
            "x": {"field": "date", "type": "temporal", "title": null},
            "y": {"field": "v1", "type": "quantitative", "title": "Diffuse CO₂ emission (l/d)"},
            "y2": {"field": "v2"}
          }
        },
        {
          "data": {"name": "legendText"},
          "mark": {"type": "text", "align": "left", "baseline": "middle", "fontSize": 12.5, "fontWeight": "bold", "color": "black"},
          "encoding": {
            "x": {"field": "date", "type": "temporal", "title": null},
            "y": {"field": "v", "type": "quantitative", "title": "Diffuse CO₂ emission (l/d)"},
            "text": {"field": "label"}
          }
        },
        {
          "data": {"name": "yearLines"},
          "mark": {"type": "rule", "color": "black", "strokeWidth": 2},
          "encoding": {
            "x": {"field": "x1", "type": "temporal", "title": null},
            "x2": {"field": "x2"},
            "y": {"datum": -290, "type": "quantitative"}
          }
        },
        {
          "data": {"name": "yearHeads"},
          "mark": {"type": "point", "filled": true, "size": 70, "color": "black", "opacity": 1},
          "encoding": {
            "x": {"field": "date", "type": "temporal", "title": null},
            "y": {"datum": -290, "type": "quantitative"},
            "shape": {"field": "dir", "type": "nominal", "scale": {"domain": ["left", "right"], "range": ["triangle-left", "triangle-right"]}, "legend": null}
          }
        },
        {
          "data": {"name": "yearLabels"},
          "mark": {"type": "text", "align": "center", "baseline": "middle", "fontSize": 13, "fontWeight": "bold", "color": "black"},
          "encoding": {
            "x": {"field": "date", "type": "temporal", "title": null},
            "y": {"datum": -290, "type": "quantitative"},
            "text": {"field": "year"}
          }
        }
      ]
    }
  ],
  "resolve": {"scale": {"y": "independent"}}
}
